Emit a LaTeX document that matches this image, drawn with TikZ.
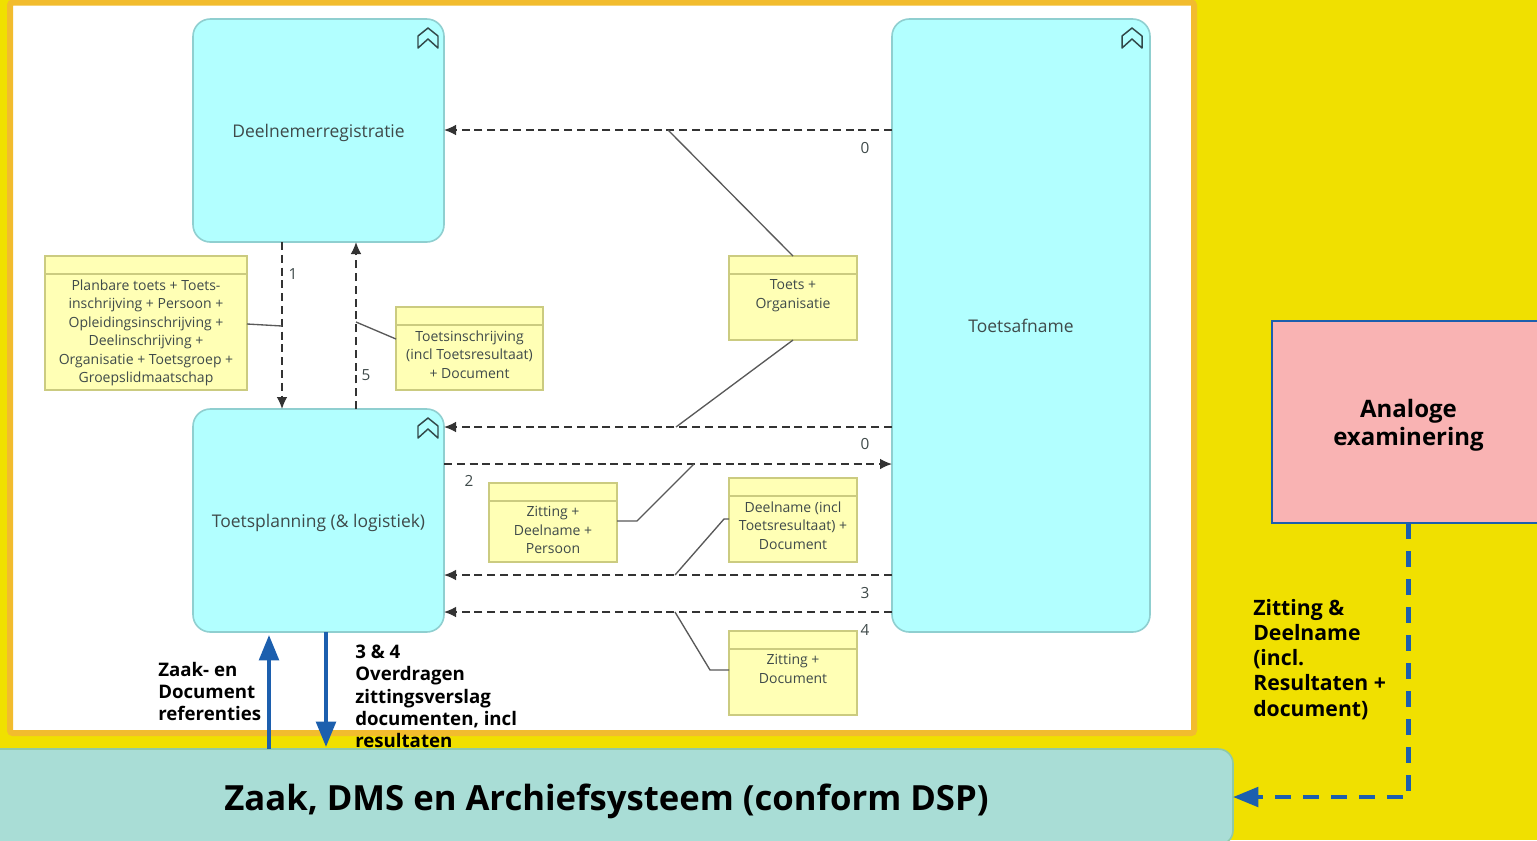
\documentclass[tikz,border=0pt]{standalone}
\usepackage{fontspec}
\setmainfont{Open Sans}
\usetikzlibrary{positioning,arrows.meta}

\definecolor{sheetyellow}{HTML}{F0E000}
\definecolor{frameorange}{HTML}{F2BC2E}
\definecolor{appcyan}{HTML}{B2FFFF}
\definecolor{appborder}{HTML}{8FCFD0}
\definecolor{datayellow}{HTML}{FFFFB5}
\definecolor{databorder}{HTML}{CBCB80}
\definecolor{archiveteal}{HTML}{A9DDD6}
\definecolor{archiveborder}{HTML}{8FC9A8}
\definecolor{flowblue}{HTML}{1C5FAE}
\definecolor{analogpink}{HTML}{F9B3B3}
\definecolor{labelgrey}{HTML}{3F4A4A}

\tikzset{
  app/.style={draw=appborder, fill=appcyan, line width=1.2pt, rounded corners=13pt,
    outer sep=0pt, text=labelgrey, text depth=0pt, font=\fontsize{13.1}{15}\selectfont},
  dataobj/.style={draw=databorder, fill=datayellow, line width=0.9pt, outer sep=0pt,
    path picture={\draw[databorder, line width=0.9pt]
      ([yshift=-13.5pt]path picture bounding box.north west) --
      ([yshift=-13.5pt]path picture bounding box.north east);},
    label={[datatext]north:#1}},
  datatext/.style={anchor=north, yshift=-17.4pt, inner sep=0pt, align=center, text=labelgrey,
    font=\fontsize{10.5}{13.9}\selectfont},
  dashedflow/.style={draw=black!80, line width=1.1pt, dash pattern=on 6pt off 3.6pt,
    -{Latex[length=9pt,width=8pt]}},
  assoc/.style={draw=black!65, line width=1pt},
  flownum/.style={inner sep=0pt, text=labelgrey, font=\fontsize{11.5}{14}\selectfont},
  blueflow/.style={draw=flowblue, line width=3.2pt,
    -{Triangle[length=19pt,width=14.5pt]}},
  bluedash/.style={draw=flowblue, line width=3.2pt, dash pattern=on 12pt off 9pt,
    -{Triangle[length=19pt,width=14.5pt]}},
  smallbold/.style={anchor=north west, inner sep=0pt, align=left,
    font=\bfseries\fontsize{14}{16.6}\selectfont},
  sidebold/.style={anchor=north west, inner sep=0pt, align=left,
    font=\bfseries\fontsize{15.9}{18.9}\selectfont},
  emblem/.pic={\draw[draw=black!50!appborder!70!black, line width=1.1pt, line join=round]
    (-10,10) -- (-10,-2) -- (0,-10) -- (10,-2) -- (10,10) -- (0,1) -- cycle;}
}

\begin{document}
\begin{tikzpicture}[x=0.75pt, y=-0.75pt]

    % Sheet
    \fill[sheetyellow] (0,0) rectangle (1537,840);
    \useasboundingbox (0,0) rectangle (1537,840);
    \draw[frameorange, fill=white, line width=4.5pt, rounded corners=2pt] (10,2.5) rectangle (1194,733);

    % Define nodes
    \node[app, minimum width=188.25pt, minimum height=167.25pt] at (318.5,520.5) (toetsplanning) {Toetsplanning (\& logistiek)};
    \node[app, minimum width=188.25pt, minimum height=167.25pt, above=125.25pt of toetsplanning] (deelnemer) {Deelnemerregistratie};
    \node[app, minimum width=193.5pt, minimum height=459.75pt] at (1021,325.5) (toetsafname) {Toetsafname};

    \node[dataobj={Planbare toets + Toets-\\inschrijving + Persoon +\\Opleidingsinschrijving +\\Deelinschrijving +\\Organisatie + Toetsgroep +\\Groepslidmaatschap},
      minimum width=151.5pt, minimum height=100.5pt, above left=14.25pt and -40.5pt of toetsplanning] (planbaar) {};
    \node[dataobj={Toetsinschrijving\\(incl Toetsresultaat)\\+ Document},
      minimum width=110.25pt, minimum height=62.25pt, above right=14.25pt and -36pt of toetsplanning] (inschrijving) {};
    \node[dataobj={Toets +\\Organisatie},
      minimum width=96pt, minimum height=63pt, left=26.25pt of toetsafname, yshift=20.6pt] (toets) {};
    \node[dataobj={Deelname (incl\\Toetsresultaat) +\\Document},
      minimum width=96pt, minimum height=63pt, left=26.25pt of toetsafname, yshift=-145.9pt] (deelname) {};
    \node[dataobj={Zitting +\\Deelname +\\Persoon},
      minimum width=96pt, minimum height=59.25pt, left=84pt of deelname, yshift=-1.9pt] (zitting) {};
    \node[dataobj={Zitting +\\Document},
      minimum width=96pt, minimum height=63pt, below=51.75pt of deelname] (verslag) {};

    \node[draw=flowblue, fill=analogpink, line width=1.5pt, outer sep=0pt, minimum width=204.75pt, minimum height=151.5pt, text depth=0pt,
      align=center, font=\bfseries\fontsize{18}{21}\selectfont] at (1408.5,422) (analoog) {Analoge\\examinering};
    \node[draw=archiveborder, fill=archiveteal, line width=1.2pt, rounded corners=11pt, outer sep=0pt, minimum width=939.75pt, minimum height=72pt, text depth=0pt,
      font=\bfseries\fontsize{26}{30}\selectfont] at (606.5,797) (archief) {Zaak, DMS en Archiefsysteem (conform DSP)};

    % Flow numbers
    \node[flownum] at (865,148) (num0a) {0};
    \node[flownum] at (293,274) (num1) {1};
    \node[flownum] at (366,375) (num5) {5};
    \node[flownum] at (865,444) (num0b) {0};
    \node[flownum] at (469,481) (num2) {2};
    \node[flownum] at (865,593) (num3) {3};
    \node[flownum] at (865,630) (num4) {4};

    % Bold labels
    \node[smallbold] at (158,662) (zaakref) {Zaak- en\\Document\\referenties};
    \node[smallbold] at (355,645) (overdragen) {3 \& 4\\Overdragen\\zittingsverslag\\documenten, incl\\resultaten};
    \node[sidebold] at (1253,599) (zittingdeel) {Zitting \&\\Deelname\\(incl.\\Resultaten +\\document)};

    % Icons
    \pic at (428,38) {emblem};
    \pic at (428,428) {emblem};
    \pic at (1132,38) {emblem};

    % Heights and columns of the flows
    \coordinate (flowdown) at (282,300);
    \coordinate (flowup) at (356,322);
    \coordinate (flowa) at (668,130);
    \coordinate (flowb) at (676,427);
    \coordinate (flowc) at (694,464);
    \coordinate (flowd) at (675,575);
    \coordinate (flowe) at (675,612);
    \coordinate (bendc) at (637,521);
    \coordinate (bendd) at (724,519);
    \coordinate (bende) at (710,670);
    \coordinate (refup) at (269,700);
    \coordinate (refdown) at (326,700);
    \coordinate (planjoin) at (282,326);

    % Connect the nodes
    \draw[dashedflow] (deelnemer.south -| flowdown) -- (toetsplanning.north -| flowdown);
    \draw[dashedflow] (toetsplanning.north -| flowup) -- (deelnemer.south -| flowup);
    \draw[dashedflow] (toetsafname.west |- flowa) -- (deelnemer.east |- flowa);
    \draw[dashedflow] (toetsafname.west |- flowb) -- (toetsplanning.east |- flowb);
    \draw[dashedflow] (toetsplanning.east |- flowc) -- (toetsafname.west |- flowc);
    \draw[dashedflow] (toetsafname.west |- flowd) -- (toetsplanning.east |- flowd);
    \draw[dashedflow] (toetsafname.west |- flowe) -- (toetsplanning.east |- flowe);

    \draw[assoc] (toets.north) -- (flowa);
    \draw[assoc] (toets.south) -- (flowb);
    \draw[assoc] (planbaar.east |- 0,324) -- (planjoin);
    \draw[assoc] (flowup) -- (inschrijving.west |- 0,339);
    \draw[assoc] (zitting.east |- bendc) -- (bendc) -- (flowc);
    \draw[assoc] (deelname.west |- bendd) -- (bendd) -- (flowd);
    \draw[assoc] (flowe) -- (bende) -- (verslag.west |- bende);

    \draw[blueflow, shorten >=2.2pt] (archief.north -| refup) -- (toetsplanning.south -| refup);
    \draw[blueflow, shorten >=1.5pt] (toetsplanning.south -| refdown) -- (archief.north -| refdown);
    \draw[bluedash] (analoog.south) -- (analoog.south |- archief.east) -- (archief.east);

\end{tikzpicture}
\end{document}
